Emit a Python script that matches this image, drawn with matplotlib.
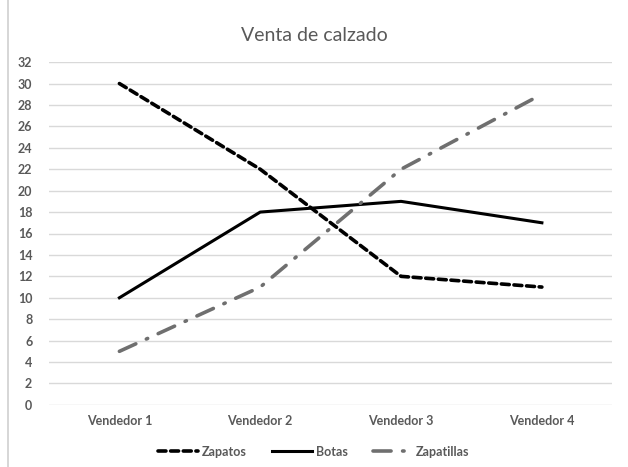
import matplotlib
matplotlib.use("Agg")
import matplotlib.pyplot as plt
from matplotlib.lines import Line2D

categories = ["Vendedor 1", "Vendedor 2", "Vendedor 3", "Vendedor 4"]
zapatos = [30, 22, 12, 11]
botas = [10, 18, 19, 17]
zapatillas = [5, 11, 22, 29]
yticks = list(range(0, 33, 2))

plt.rcParams['font.family'] = ['Lato', 'DejaVu Sans']

fig = plt.figure(figsize=(6.28, 4.67), dpi=100)
ax = fig.add_axes([0.078, 0.133, 0.897, 0.734])

x = list(range(len(categories)))
ax.plot(x, zapatos, color="black", lw=2.6, linestyle=(0, (2.2, 1.3)), dash_capstyle="round", label="Zapatos")
ax.plot(x, botas, color="black", lw=2.2, linestyle="-", label="Botas")
ax.plot(x, zapatillas, color="#6f6f6f", lw=2.6, linestyle=(0, (5, 3.2, 0.4, 3.2)), dash_capstyle="round", label="Zapatillas")

ax.set_xlim(-0.5, 3.5)
ax.set_ylim(0, 32)
ax.set_yticks(yticks)
ax.set_xticks(x)
ax.set_xticklabels(categories)
ax.grid(axis="y", color="#d9d9d9", lw=1)
ax.set_axisbelow(True)
for s in ax.spines.values():
    s.set_visible(False)
ax.tick_params(axis="both", length=0, colors="#595959", labelsize=9)
for lab in ax.get_xticklabels() + ax.get_yticklabels():
    lab.set_fontweight("bold")
ax.tick_params(axis="y", pad=12)
ax.tick_params(axis="x", pad=7)

fig.text(0.5, 0.925, "Venta de calzado", ha="center", va="center", fontsize=14, color="#595959")

leg = fig.legend(loc="center", bbox_to_anchor=(0.5, 0.033), ncol=3, frameon=False,
                 fontsize=9, handlelength=3.2, handletextpad=0.3, columnspacing=2.0)
for t in leg.get_texts():
    t.set_color("#595959")
    t.set_fontweight("bold")

fig.add_artist(Line2D([8/628, 8/628], [0, 1], color="#d0d0d0", lw=1.2, transform=fig.transFigure))

fig.savefig("out.png", dpi=100)
